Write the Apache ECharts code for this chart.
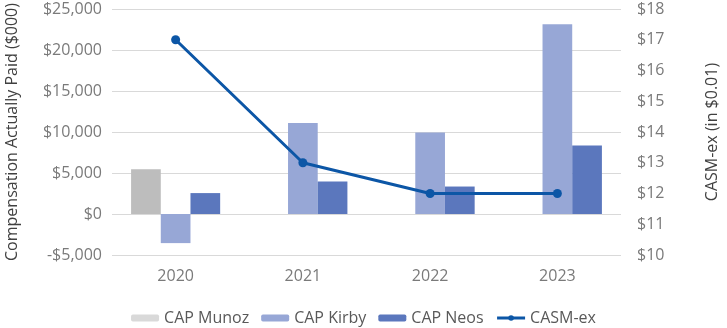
<!DOCTYPE html>
<html>
<head>
<meta charset="utf-8">
<script src="https://cdn.jsdelivr.net/npm/echarts@6/dist/echarts.min.js"></script>
<style>
html,body{margin:0;padding:0;background:#fff;}
#chart{width:727px;height:328px;}
</style>
</head>
<body>
<div id="chart"></div>
<script>
const years = ['2020', '2021', '2022', '2023'];
const capMunoz = [5450, null, null, null];
const capKirby = [-3550, 11100, 9950, 23150];
const capNeos = [2550, 3950, 3350, 8350];
const casmEx = [17.0, 13.0, 12.0, 12.0];
const leftTicks = { min: -5000, max: 25000, interval: 5000 };
const rightTicks = { min: 10, max: 18, interval: 1 };

const FONT = '"Open Sans", "Noto Sans", sans-serif';
const chart = echarts.init(document.getElementById('chart'), null, { renderer: 'canvas' });

function money(v) {
  const s = '$' + Math.abs(v).toLocaleString('en-US');
  return v < 0 ? '-' + s : s;
}

chart.setOption({
  animation: false,
  textStyle: { fontFamily: FONT },
  grid: { left: 112, right: 106, top: 9, bottom: 73, containLabel: false, outerBoundsMode: 'none' },
  legend: {
    left: 'center',
    top: 305,
    itemWidth: 28,
    itemHeight: 7,
    itemGap: 12,
    textStyle: { fontFamily: FONT, fontSize: 16, color: '#595959' },
    data: [
      { name: 'CAP Munoz', itemStyle: { color: '#D9D9D9' } },
      { name: 'CAP Kirby' },
      { name: 'CAP Neos' },
      { name: 'CASM-ex', lineStyle: { width: 3 } }
    ]
  },
  xAxis: {
    type: 'category',
    data: years,
    axisLine: { show: false },
    axisTick: { show: false },
    axisLabel: { fontFamily: FONT, fontSize: 16, color: '#7a7a7a', margin: 13 }
  },
  yAxis: [
    {
      type: 'value',
      min: leftTicks.min, max: leftTicks.max, interval: leftTicks.interval,
      name: 'Compensation Actually Paid ($000)',
      nameLocation: 'middle',
      nameRotate: 90,
      nameGap: 92,
      nameTextStyle: { fontFamily: FONT, fontSize: 16, color: '#404040' },
      axisLine: { show: false },
      axisTick: { show: false },
      axisLabel: { fontFamily: FONT, fontSize: 16, color: '#7a7a7a', margin: 10, formatter: money },
      splitLine: { lineStyle: { color: '#D9D9D9', width: 1 } }
    },
    {
      type: 'value',
      min: rightTicks.min, max: rightTicks.max, interval: rightTicks.interval,
      name: 'CASM-ex (in $0.01)',
      nameLocation: 'middle',
      nameRotate: 90,
      nameGap: 83,
      nameTextStyle: { fontFamily: FONT, fontSize: 16, color: '#404040' },
      axisLine: { show: false },
      axisTick: { show: false },
      axisLabel: { fontFamily: FONT, fontSize: 16, color: '#7a7a7a', margin: 16, formatter: v => '$' + v },
      splitLine: { show: false }
    }
  ],
  series: [
    { name: 'CAP Munoz', type: 'bar', data: capMunoz, barGap: '0%', barCategoryGap: '30%', itemStyle: { color: '#BDBDBD' } },
    { name: 'CAP Kirby', type: 'bar', data: capKirby, itemStyle: { color: '#97A7D6' } },
    { name: 'CAP Neos', type: 'bar', data: capNeos, itemStyle: { color: '#5B77BD' } },
    {
      name: 'CASM-ex', type: 'line', yAxisIndex: 1, data: casmEx,
      symbol: 'circle', symbolSize: 9,
      lineStyle: { color: '#0C56A6', width: 3 },
      itemStyle: { color: '#0C56A6' }
    }
  ]
});
</script>
</body>
</html>
